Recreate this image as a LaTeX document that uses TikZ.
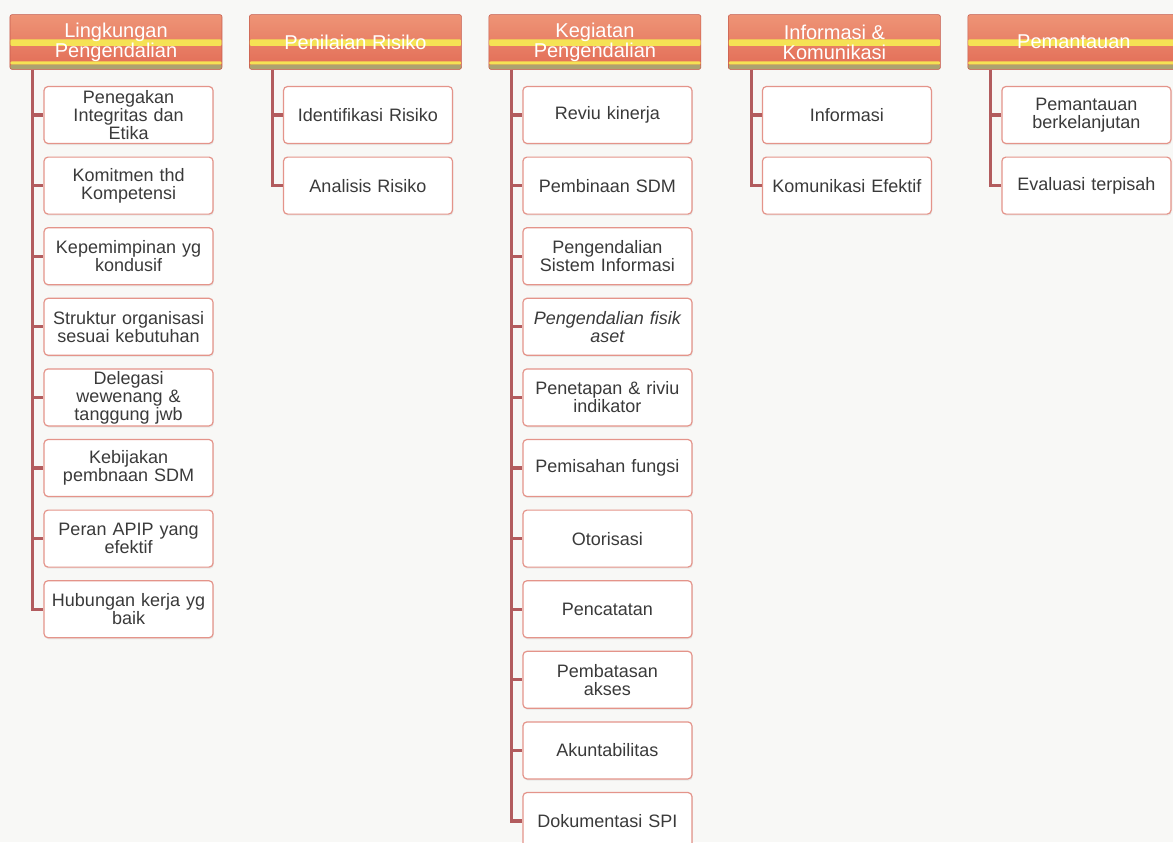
\documentclass[tikz,border=0pt]{standalone}
\usepackage{fontspec}
\setmainfont{Liberation Sans}
\usetikzlibrary{positioning,shadows}

\definecolor{paper}{RGB}{248,248,246}
\definecolor{headred}{RGB}{226,108,86}
\definecolor{headtop}{RGB}{238,148,118}
\definecolor{headedge}{RGB}{196,92,78}
\definecolor{headyellow}{RGB}{245,226,84}
\definecolor{headbase}{RGB}{172,162,112}
\definecolor{boxline}{RGB}{228,148,138}
\definecolor{linkred}{RGB}{178,92,94}
\definecolor{itemtext}{RGB}{58,58,58}

\tikzset{
  head/.style={rectangle, rounded corners=1.5pt, draw=headedge, line width=0.4pt,
    top color=headtop, bottom color=headred,
    minimum width=159pt, minimum height=41pt, inner sep=0pt,
    align=center, text=white, font=\fontsize{15}{15}\selectfont,
    path picture={
      \fill[headyellow] ([yshift=-18.5pt]path picture bounding box.north west)
        rectangle ([yshift=-23.5pt]path picture bounding box.north east);
      \fill[headyellow] ([yshift=3.5pt]path picture bounding box.south west)
        rectangle ([yshift=6pt]path picture bounding box.south east);
      \fill[headbase] (path picture bounding box.south west)
        rectangle ([yshift=3.5pt]path picture bounding box.south east);
    }},
  item/.style={rectangle, rounded corners=3pt, draw=boxline, line width=0.9pt,
    fill=white, minimum width=126.75pt, minimum height=42.75pt,
    text width=120pt, inner sep=0pt, align=center, text=itemtext,
    font=\fontsize{13.5}{13.5}\selectfont,
    drop shadow={opacity=0.12, shadow xshift=0.6pt, shadow yshift=-1.2pt}},
  link/.style={draw=linkred, line width=2.4pt}
}

\begin{document}
\begin{tikzpicture}[node distance=52.95pt, on grid]
  \path[use as bounding box, fill=paper] (-87pt,31.5pt) rectangle (792.75pt,-600pt);

  % headers
  \node[head] (lingk) {Lingkungan\\Pengendalian};
  \node[head, right=179.6pt of lingk] (nilai) {Penilaian Risiko};
  \node[head, right=179.6pt of nilai] (kegiatan) {Kegiatan\\Pengendalian};
  \node[head, right=179.6pt of kegiatan] (infokom) {Informasi \&\\Komunikasi};
  \node[head, right=179.6pt of infokom] (pantau) {Pemantauan};

  % lingkungan pengendalian
  \node[item, below=54.75pt of lingk, xshift=9.4pt] (l1) {Penegakan\\Integritas dan\\Etika};
  \node[item, below=of l1] (l2) {Komitmen thd\\Kompetensi};
  \node[item, below=of l2] (l3) {Kepemimpinan yg\\kondusif};
  \node[item, below=of l3] (l4) {Struktur organisasi\\sesuai kebutuhan};
  \node[item, below=of l4] (l5) {Delegasi\\wewenang \&\\tanggung jwb};
  \node[item, below=of l5] (l6) {Kebijakan\\pembnaan SDM};
  \node[item, below=of l6] (l7) {Peran APIP yang\\efektif};
  \node[item, below=of l7] (l8) {Hubungan kerja yg\\baik};

  % penilaian risiko
  \node[item, below=54.75pt of nilai, xshift=9.4pt] (n1) {Identifikasi Risiko};
  \node[item, below=of n1] (n2) {Analisis Risiko};

  % kegiatan pengendalian
  \node[item, below=54.75pt of kegiatan, xshift=9.4pt] (k1) {Reviu kinerja};
  \node[item, below=of k1] (k2) {Pembinaan SDM};
  \node[item, below=of k2] (k3) {Pengendalian\\Sistem Informasi};
  \node[item, below=of k3, font=\fontsize{13.5}{13.5}\selectfont\itshape] (k4) {Pengendalian fisik\\aset};
  \node[item, below=of k4] (k5) {Penetapan \& riviu\\indikator};
  \node[item, below=of k5] (k6) {Pemisahan fungsi};
  \node[item, below=of k6] (k7) {Otorisasi};
  \node[item, below=of k7] (k8) {Pencatatan};
  \node[item, below=of k8] (k9) {Pembatasan\\akses};
  \node[item, below=of k9] (k10) {Akuntabilitas};
  \node[item, below=of k10] (k11) {Dokumentasi SPI};

  % informasi & komunikasi
  \node[item, below=54.75pt of infokom, xshift=9.4pt] (i1) {Informasi};
  \node[item, below=of i1] (i2) {Komunikasi Efektif};

  % pemantauan
  \node[item, below=54.75pt of pantau, xshift=9.4pt] (p1) {Pemantauan\\berkelanjutan};
  \node[item, below=of p1] (p2) {Evaluasi terpisah};

  % trunk points under the headers
  \coordinate (lt) at ([xshift=17.25pt]lingk.south west);
  \coordinate (nt) at ([xshift=17.25pt]nilai.south west);
  \coordinate (kt) at ([xshift=17.25pt]kegiatan.south west);
  \coordinate (it) at ([xshift=17.25pt]infokom.south west);
  \coordinate (pt) at ([xshift=17.25pt]pantau.south west);

  \draw[link] (lt) |- (l1.west) (lt) |- (l2.west) (lt) |- (l3.west) (lt) |- (l4.west)
              (lt) |- (l5.west) (lt) |- (l6.west) (lt) |- (l7.west) (lt) |- (l8.west);
  \draw[link] (nt) |- (n1.west) (nt) |- (n2.west);
  \draw[link] (kt) |- (k1.west) (kt) |- (k2.west) (kt) |- (k3.west) (kt) |- (k4.west)
              (kt) |- (k5.west) (kt) |- (k6.west) (kt) |- (k7.west) (kt) |- (k8.west)
              (kt) |- (k9.west) (kt) |- (k10.west) (kt) |- (k11.west);
  \draw[link] (it) |- (i1.west) (it) |- (i2.west);
  \draw[link] (pt) |- (p1.west) (pt) |- (p2.west);
\end{tikzpicture}
\end{document}
